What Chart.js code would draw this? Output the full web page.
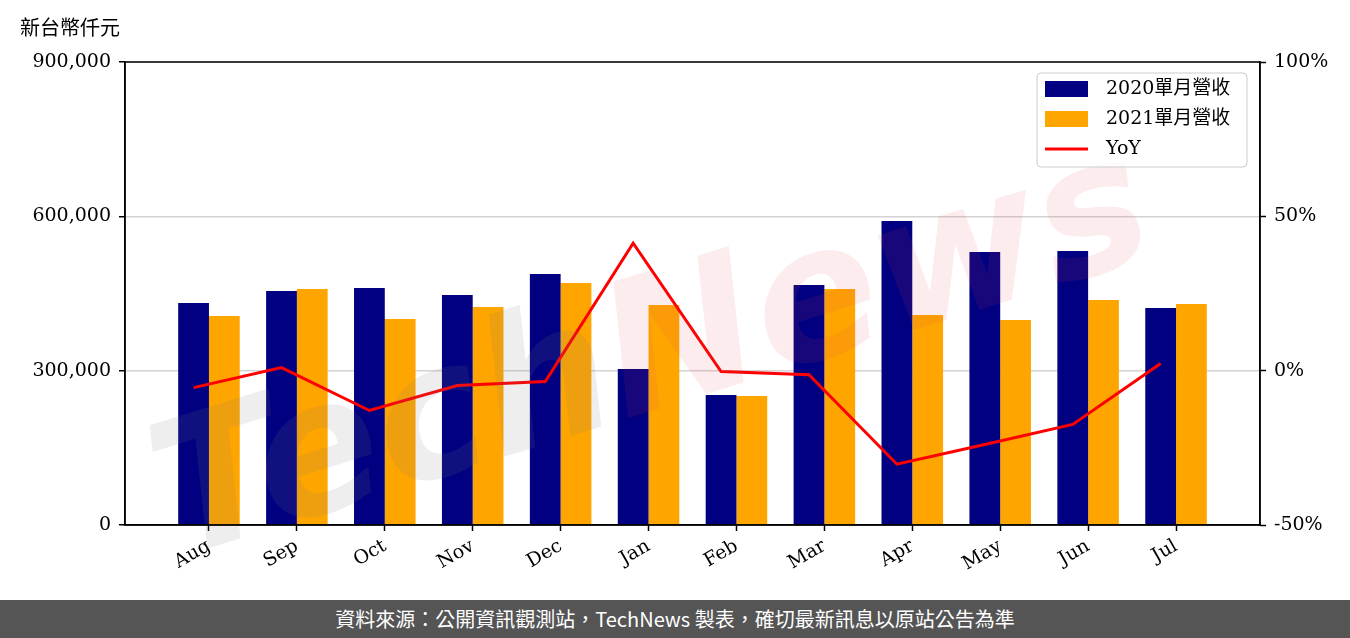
<!DOCTYPE html>
<html>
<head>
<meta charset="utf-8">
<script src="https://cdn.jsdelivr.net/npm/chart.js@4"></script>
<style>
  body { margin: 0; background: #fff; width: 1350px; height: 638px; overflow: hidden; }
  #wrap { position: relative; width: 1350px; height: 600px; }
  #footer {
    height: 38px; background: #555; color: #fff; text-align: center;
    font: 20px "Noto Sans CJK TC", "Noto Sans", sans-serif; line-height: 38px;
  }
</style>
</head>
<body>
<div id="wrap"><canvas id="chart"></canvas></div>
<div id="footer">資料來源：公開資訊觀測站，TechNews 製表，確切最新訊息以原站公告為準</div>
<script>
// 月份與數值（仟元）
const months = ["Aug", "Sep", "Oct", "Nov", "Dec", "Jan", "Feb", "Mar", "Apr", "May", "Jun", "Jul"];
const rev2020 = [431600, 455000, 460700, 447100, 487900, 303300, 252700, 466600, 591000, 530700, 532700, 421800];
const rev2021 = [406300, 458800, 400500, 423800, 470400, 427700, 250800, 458800, 408200, 398500, 437400, 429600];
const yoy = [-5.5, 1.0, -12.9, -4.8, -3.5, 41.3, -0.3, -1.3, -30.3, -23.9, -17.4, 2.3];
const leftTicks = [0, 300000, 600000, 900000];
const rightTicks = [-50, 0, 50, 100];

const serif = "'DejaVu Serif', 'Noto Sans CJK TC', serif";
const lineShift = 0.175; // 線畫在2020柱的中心

const legendItems = [
  { label: "2020單月營收", type: "rect", color: "#000080" },
  { label: "2021單月營收", type: "rect", color: "#ffa500" },
  { label: "YoY", type: "line", color: "#ff0000" }
];

const extras = {
  id: "extras",
  afterDraw(chart) {
    const ctx = chart.ctx;
    const a = chart.chartArea;
    ctx.save();

    // 浮水印
    ctx.translate(650, 330);
    ctx.rotate(-0.3);
    ctx.font = "bold italic 185px 'DejaVu Sans', sans-serif";
    ctx.textBaseline = "middle";
    ctx.textAlign = "left";
    ctx.fillStyle = "rgba(120,120,120,0.13)";
    ctx.fillText("Tech", -520, 30);
    const w = ctx.measureText("Tech").width;
    ctx.fillStyle = "rgba(225,70,80,0.10)";
    ctx.fillText("News", -520 + w, 30);
    ctx.restore();

    ctx.save();
    // 外框
    ctx.strokeStyle = "#000";
    ctx.lineWidth = 1.5;
    ctx.strokeRect(a.left, a.top, a.right - a.left, a.bottom - a.top);

    // 單位
    ctx.fillStyle = "#000";
    ctx.font = "20px 'Noto Sans CJK TC', sans-serif";
    ctx.textBaseline = "middle";
    ctx.textAlign = "left";
    ctx.fillText("新台幣仟元", 20, 27);

    // 圖例
    const bx = a.right - 223, by = a.top + 11, bw = 210, bh = 94;
    ctx.beginPath();
    ctx.roundRect(bx, by, bw, bh, 4);
    ctx.fillStyle = "rgba(255,255,255,0.8)";
    ctx.fill();
    ctx.strokeStyle = "#cccccc";
    ctx.lineWidth = 1;
    ctx.stroke();
    ctx.font = "19px " + serif;
    legendItems.forEach((it, i) => {
      const cy = by + 16 + i * 30;
      if (it.type === "rect") {
        ctx.fillStyle = it.color;
        ctx.fillRect(bx + 8, cy - 8, 43, 16);
      } else {
        ctx.strokeStyle = it.color;
        ctx.lineWidth = 3;
        ctx.beginPath();
        ctx.moveTo(bx + 8, cy);
        ctx.lineTo(bx + 51, cy);
        ctx.stroke();
      }
      ctx.fillStyle = "#000";
      ctx.fillText(it.label, bx + 69, cy);
    });
    ctx.restore();
  }
};

new Chart(document.getElementById("chart"), {
  type: "bar",
  data: {
    datasets: [
      {
        type: "line",
        label: "YoY",
        data: yoy.map((v, i) => ({ x: i - lineShift, y: v })),
        yAxisID: "y2",
        borderColor: "#ff0000",
        borderWidth: 3,
        pointRadius: 0,
        tension: 0,
        order: 0
      },
      {
        label: "2020單月營收",
        data: rev2020.map((v, i) => ({ x: i, y: v })),
        backgroundColor: "#000080",
        categoryPercentage: 0.7,
        barPercentage: 1.0,
        order: 1
      },
      {
        label: "2021單月營收",
        data: rev2021.map((v, i) => ({ x: i, y: v })),
        backgroundColor: "#ffa500",
        categoryPercentage: 0.7,
        barPercentage: 1.0,
        order: 1
      }
    ]
  },
  options: {
    responsive: true,
    maintainAspectRatio: false,
    animation: false,
    layout: { padding: { top: 62, left: 0, right: 0, bottom: 0 } },
    plugins: { legend: { display: false }, tooltip: { enabled: false } },
    scales: {
      x: {
        type: "linear",
        offset: false,
        min: -0.955,
        max: 11.955,
        afterBuildTicks: (axis) => { axis.ticks = months.map((m, i) => ({ value: i })); },
        afterFit: (axis) => { axis.height = 75; },
        grid: { offset: false, drawOnChartArea: false, tickLength: 6, tickColor: "#000", tickWidth: 1.5 },
        border: { display: true, color: "#000", width: 1.5 },
        ticks: {
          callback: (v) => months[v],
          minRotation: 30,
          maxRotation: 30,
          padding: 4,
          color: "#000",
          font: { family: serif, size: 19 }
        }
      },
      y: {
        position: "left",
        min: 0,
        max: 900000,
        afterBuildTicks: (axis) => { axis.ticks = leftTicks.map(v => ({ value: v })); },
        afterFit: (axis) => { axis.width = 125; },
        grid: { color: "#d3d3d3", lineWidth: 1.5, tickLength: 6, tickColor: "#000", tickWidth: 1.5 },
        border: { display: true, color: "#000", width: 1.5 },
        ticks: {
          callback: (v) => v.toLocaleString("en-US"),
          padding: 8,
          color: "#000",
          font: { family: serif, size: 19 }
        }
      },
      y2: {
        position: "right",
        min: -50,
        max: 100,
        afterBuildTicks: (axis) => { axis.ticks = rightTicks.map(v => ({ value: v })); },
        afterFit: (axis) => { axis.width = 90; },
        grid: { drawOnChartArea: false, tickLength: 6, tickColor: "#000", tickWidth: 1.5 },
        border: { display: true, color: "#000", width: 1.5 },
        ticks: {
          callback: (v) => v + "%",
          padding: 8,
          color: "#000",
          font: { family: serif, size: 19 }
        }
      }
    }
  },
  plugins: [extras]
});
</script>
</body>
</html>
